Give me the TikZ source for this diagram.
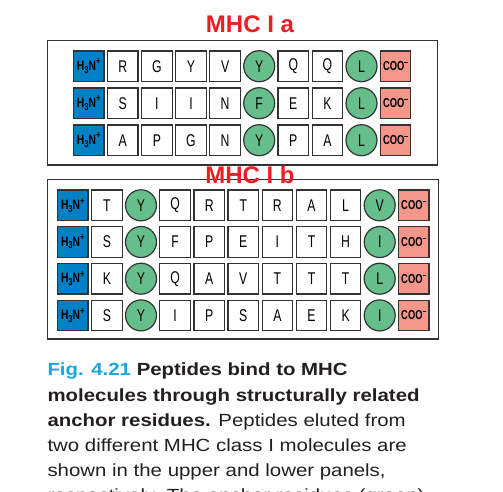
\documentclass[tikz,border=0pt]{standalone}
\usepackage{fontspec}
\setmainfont{Liberation Sans}
\newfontfamily\condfont[FakeStretch=0.72]{Liberation Sans}
\newfontfamily\ncondfont[FakeStretch=0.76]{Liberation Sans}
\newfontfamily\capfont[FakeStretch=1.16]{Liberation Sans}
\definecolor{titlered}{HTML}{EE1C25}
\definecolor{figcyan}{HTML}{1AA6DF}
\definecolor{nblue}{HTML}{0080C6}
\definecolor{ancgreen}{HTML}{66BF8A}
\definecolor{csalmon}{HTML}{F4968A}
\definecolor{boxline}{HTML}{333333}
\definecolor{captext}{HTML}{231F20}
\newcommand{\Nterm}{H\raisebox{-0.4ex}{\fontsize{10}{10}\selectfont 3}N\raisebox{0.75ex}{\fontsize{10}{10}\selectfont +}}
\newcommand{\Cterm}{COO\raisebox{1.1ex}{\rule{3.8pt}{1.1pt}}}
\tikzset{
  panel/.style={draw=boxline, line width=1.3pt, fill=white},
  cell/.style={draw=boxline, line width=1.2pt, fill=white, minimum width=30.5pt, minimum height=30.5pt, inner sep=0pt, font=\condfont\fontsize{17}{17}\selectfont},
  anc/.style={cell, circle, fill=ancgreen, minimum size=31pt},
  nterm/.style={cell, fill=nblue, font=\ncondfont\bfseries\fontsize{13.5}{13.5}\selectfont},
  cterm/.style={cell, fill=csalmon, font=\condfont\bfseries\fontsize{13}{13}\selectfont},
  paneltitle/.style={anchor=base, text=titlered, font=\bfseries\fontsize{24}{24}\selectfont, inner sep=0pt}
}
\begin{document}
\begin{tikzpicture}[x=1pt,y=-1pt]
\useasboundingbox (0,0) rectangle (503,491);
\clip (0,0) rectangle (503,491);
% panel a
\draw[panel] (47.3,40.7) rectangle (437.3,165);
\foreach \seq [count=\r] in {{R,G,Y,V,Y,Q,Q,L},{S,I,I,N,F,E,K,L},{A,P,G,N,Y,P,A,L}}{
  \pgfmathsetmacro\yy{66.2+(\r-1)*37}
  \node[nterm] (a\r-0) at (88.7,\yy) {\Nterm};
  \foreach \aa [count=\c] in \seq {
    \pgfmathsetmacro\xx{88.7+34.1*\c}
    \pgfmathtruncatemacro\isanc{(\c==5)||(\c==8)}
    \ifnum\isanc=1 \node[anc] (a\r-\c) at (\xx,\yy) {\aa};
    \else \node[cell] (a\r-\c) at (\xx,\yy) {\aa}; \fi
  }
  \node[cterm] (a\r-9) at (88.7+34.1*9,\yy) {\Cterm};
}
% panel b
\draw[panel] (47.3,179.3) rectangle (438.3,339);
\foreach \seq [count=\r] in {{T,Y,Q,R,T,R,A,L,V},{S,Y,F,P,E,I,T,H,I},{K,Y,Q,A,V,T,T,T,L},{S,Y,I,P,S,A,E,K,I}}{
  \pgfmathsetmacro\yy{205.3+(\r-1)*36.7}
  \node[nterm] (b\r-0) at (72.8,\yy) {\Nterm};
  \foreach \aa [count=\c] in \seq {
    \pgfmathsetmacro\xx{72.8+34.1*\c}
    \pgfmathtruncatemacro\isanc{(\c==2)||(\c==9)}
    \ifnum\isanc=1 \node[anc] (b\r-\c) at (\xx,\yy) {\aa};
    \else \node[cell] (b\r-\c) at (\xx,\yy) {\aa}; \fi
  }
  \node[cterm] (b\r-10) at (72.8+34.1*10,\yy) {\Cterm};
}
% titles
\node[paneltitle] (ta) at (250,32.3) {MHC I a};
\node[paneltitle] (tb) at (250,183.3) {MHC I b};
% caption (base = baseline of its last line)
\node[anchor=base west, align=left, inner sep=0pt, text=captext, font=\capfont\fontsize{17.6}{25.2}\selectfont] (cap) at (47.3,501.9)
{\textcolor{figcyan}{\textbf{Fig. 4.21}} \textbf{Peptides bind to MHC}\\
\textbf{molecules through structurally related}\\
\textbf{anchor residues.} Peptides eluted from\\
two different MHC class I molecules are\\
shown in the upper and lower panels,\\
respectively. The anchor residues (green)};
\end{tikzpicture}
\end{document}
